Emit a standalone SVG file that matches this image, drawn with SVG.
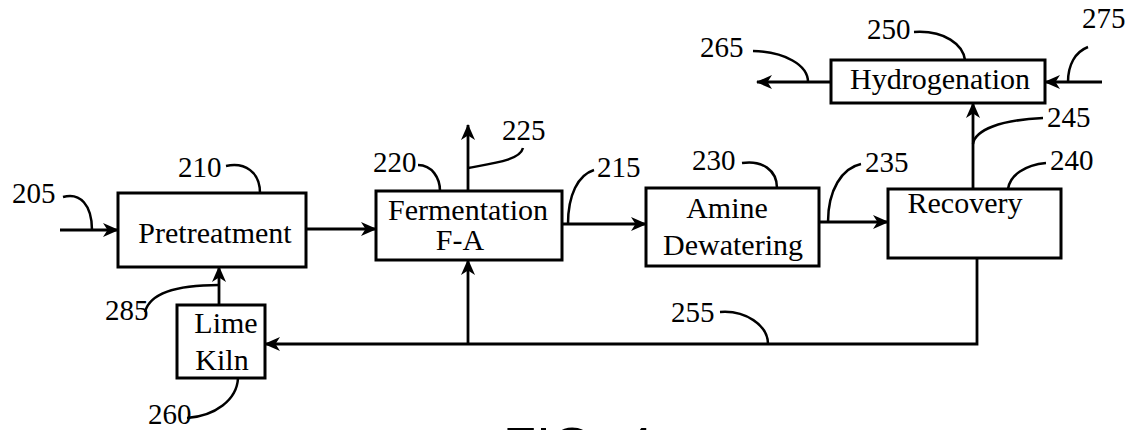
<svg xmlns="http://www.w3.org/2000/svg" width="1130" height="430" viewBox="0 0 1130 430">
<defs>
<style>
.box{fill:#fff;stroke:#000;stroke-width:3}
.t{font-family:'Liberation Serif','DejaVu Serif','Times New Roman',serif;font-size:30px;fill:#000;text-anchor:middle}
.n{font-family:'Liberation Serif','DejaVu Serif','Times New Roman',serif;font-size:29px;fill:#000}
.c{fill:none;stroke:#000;stroke-width:2.8}
.l{fill:none;stroke:#000;stroke-width:2.5}
</style>
<marker id="ah" markerUnits="userSpaceOnUse" viewBox="0 0 16 14" markerWidth="16" markerHeight="14" refX="15" refY="7" orient="auto">
<path d="M0,0 L16,7 L0,14 L4.5,7 Z" fill="#000"/>
</marker>
</defs>
<rect width="1130" height="430" fill="#fff"/>
<g id="connectors">
<path class="c" d="M60,230 L118,230" marker-end="url(#ah)"/>
<path class="c" d="M306,229 L376,229" marker-end="url(#ah)"/>
<path class="c" d="M562,224 L646,224" marker-end="url(#ah)"/>
<path class="c" d="M819,222 L888,222" marker-end="url(#ah)"/>
<path class="c" d="M468,191 L468,125" marker-end="url(#ah)"/>
<path class="c" d="M973,189 L973,103" marker-end="url(#ah)"/>
<path class="c" d="M831,82 L757,82" marker-end="url(#ah)"/>
<path class="c" d="M1102,82 L1045,82" marker-end="url(#ah)"/>
<path class="c" d="M977,258 L977,344 L265,344" marker-end="url(#ah)"/>
<path class="c" d="M468,344 L468,260" marker-end="url(#ah)"/>
<path class="c" d="M219,305 L219,267" marker-end="url(#ah)"/>
</g>
<g id="leaders">
<path class="l" d="M63,197 C80,192 92,205 92,230"/>
<path class="l" d="M226,166 C245,162 260,172 260,193"/>
<path class="l" d="M418,165 C432,165 440,178 440,191"/>
<path class="l" d="M468,168 C495,163 520,160 523,148"/>
<path class="l" d="M594,170 C578,175 568,195 568,224"/>
<path class="l" d="M742,163 C762,160 777,170 777,188"/>
<path class="l" d="M861,164 C842,168 828,190 828,222"/>
<path class="l" d="M1046,163 C1025,165 1010,175 1008,189"/>
<path class="l" d="M1043,118 C1000,120 975,130 973,144"/>
<path class="l" d="M914,32 C945,30 963,45 965,60"/>
<path class="l" d="M753,51 C785,52 808,65 808,82"/>
<path class="l" d="M1088,47 C1075,52 1068,65 1068,82"/>
<path class="l" d="M145,312 C150,292 180,285 219,285"/>
<path class="l" d="M720,312 C745,310 768,325 768,344"/>
<path class="l" d="M187,418 C215,416 237,400 238,378"/>
</g>
<g id="pretreatment">
<rect class="box" x="118" y="193" width="188" height="74"/>
<text class="t" x="215" y="243">Pretreatment</text>
</g>
<g id="fermentation">
<rect class="box" x="376" y="191" width="186" height="69"/>
<text class="t" x="468" y="220">Fermentation</text>
<text class="t" x="460" y="250">F-A</text>
</g>
<g id="amine">
<rect class="box" x="646" y="188" width="173" height="78"/>
<text class="t" x="727" y="218">Amine</text>
<text class="t" x="733" y="255">Dewatering</text>
</g>
<g id="recovery">
<rect class="box" x="888" y="189" width="173" height="69"/>
<text class="t" x="965" y="213">Recovery</text>
</g>
<g id="hydrogenation">
<rect class="box" x="831" y="60" width="214" height="43"/>
<text class="t" x="940" y="89">Hydrogenation</text>
</g>
<g id="limekiln">
<rect class="box" x="177" y="305" width="88" height="73"/>
<text class="t" x="226" y="333">Lime</text>
<text class="t" x="222" y="370">Kiln</text>
</g>
<g id="labels">
<text class="n" x="12" y="203">205</text>
<text class="n" x="178" y="177">210</text>
<text class="n" x="373" y="172">220</text>
<text class="n" x="502" y="140">225</text>
<text class="n" x="597" y="177">215</text>
<text class="n" x="692" y="170">230</text>
<text class="n" x="865" y="172">235</text>
<text class="n" x="1050" y="170">240</text>
<text class="n" x="1047" y="127">245</text>
<text class="n" x="867" y="39">250</text>
<text class="n" x="700" y="57">265</text>
<text class="n" x="1082" y="28">275</text>
<text class="n" x="105" y="320">285</text>
<text class="n" x="671" y="322">255</text>
<text class="n" x="148" y="424">260</text>
<text x="503" y="465" style="font-family:'Liberation Sans',Arial,sans-serif;font-size:54px;fill:#000">FIG. 4</text>
</g>
</svg>
